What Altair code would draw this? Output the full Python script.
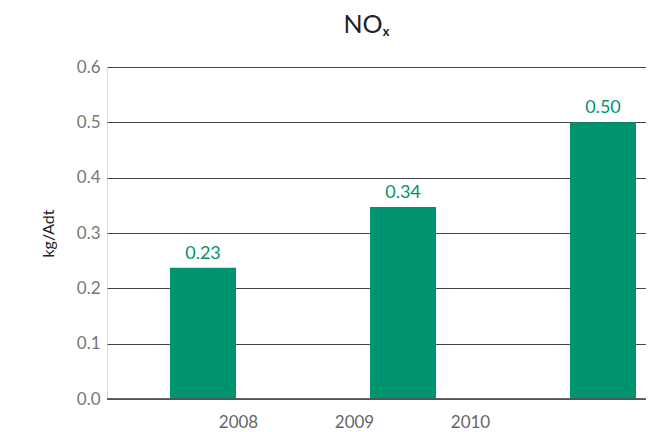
import altair as alt
import pandas as pd

years = ["2008", "2009", "2010"]
values = [0.237, 0.347, 0.50]
labels = ["0.23", "0.34", "0.50"]
y_ticks = [0.0, 0.1, 0.2, 0.3, 0.4, 0.5, 0.6]

df = pd.DataFrame({"year": years, "value": values, "label": labels})

FONT = "Lato"
GREEN = "#00936f"

base = alt.Chart(df)

bar_x = alt.X("year:N", axis=None,
              scale=alt.Scale(paddingInner=0.67, paddingOuter=0.1825, align=0.863))
y_enc = alt.Y("value:Q", scale=alt.Scale(domain=[0, 0.6]),
              axis=alt.Axis(values=y_ticks, format=".1f", title="kg/Adt",
                            grid=True, gridColor="#444", gridWidth=1,
                            domain=False, ticks=False, labelPadding=7,
                            labelColor="#777", labelFontSize=17, labelFont=FONT,
                            titleFont=FONT, titleFontSize=16, titleFontWeight="normal",
                            titleColor="#222", titlePadding=20))

bars = base.mark_bar(color=GREEN).encode(x=bar_x, y=y_enc)
text = base.mark_text(color=GREEN, fontSize=18, font=FONT, baseline="bottom", dy=-5).encode(
    x=bar_x, y=alt.Y("value:Q"), text="label:N")

inner = alt.layer(bars, text)

axis_layer = base.mark_point(opacity=0).encode(
    x=alt.X("year:N",
            scale=alt.Scale(type="point", padding=0, range=[131, 363]),
            axis=alt.Axis(orient="bottom", title=None, labelAngle=0, ticks=False,
                          domain=False, labelColor="#666",
                          labelFontSize=17, labelFont=FONT, labelPadding=15,
                          grid=False))
)

domain_line = base.mark_rule(color="#555").encode(
    x=alt.value(0), x2=alt.value(539), y=alt.value(332))

chart = alt.layer(inner, axis_layer, domain_line).resolve_scale(x="independent").properties(
    width=539, height=332,
    title=alt.TitleParams("NOₓ", fontSize=25, font=FONT, fontWeight="normal",
                          color="#222", anchor="middle", offset=20, dx=-10),
    autosize=alt.AutoSizeParams(type="none"),
    padding={"left": 99, "top": 59, "right": 0, "bottom": 33},
).configure_view(stroke=None).configure(background="white")

chart.save("out.html", embed_options={"renderer": "svg", "actions": False})
